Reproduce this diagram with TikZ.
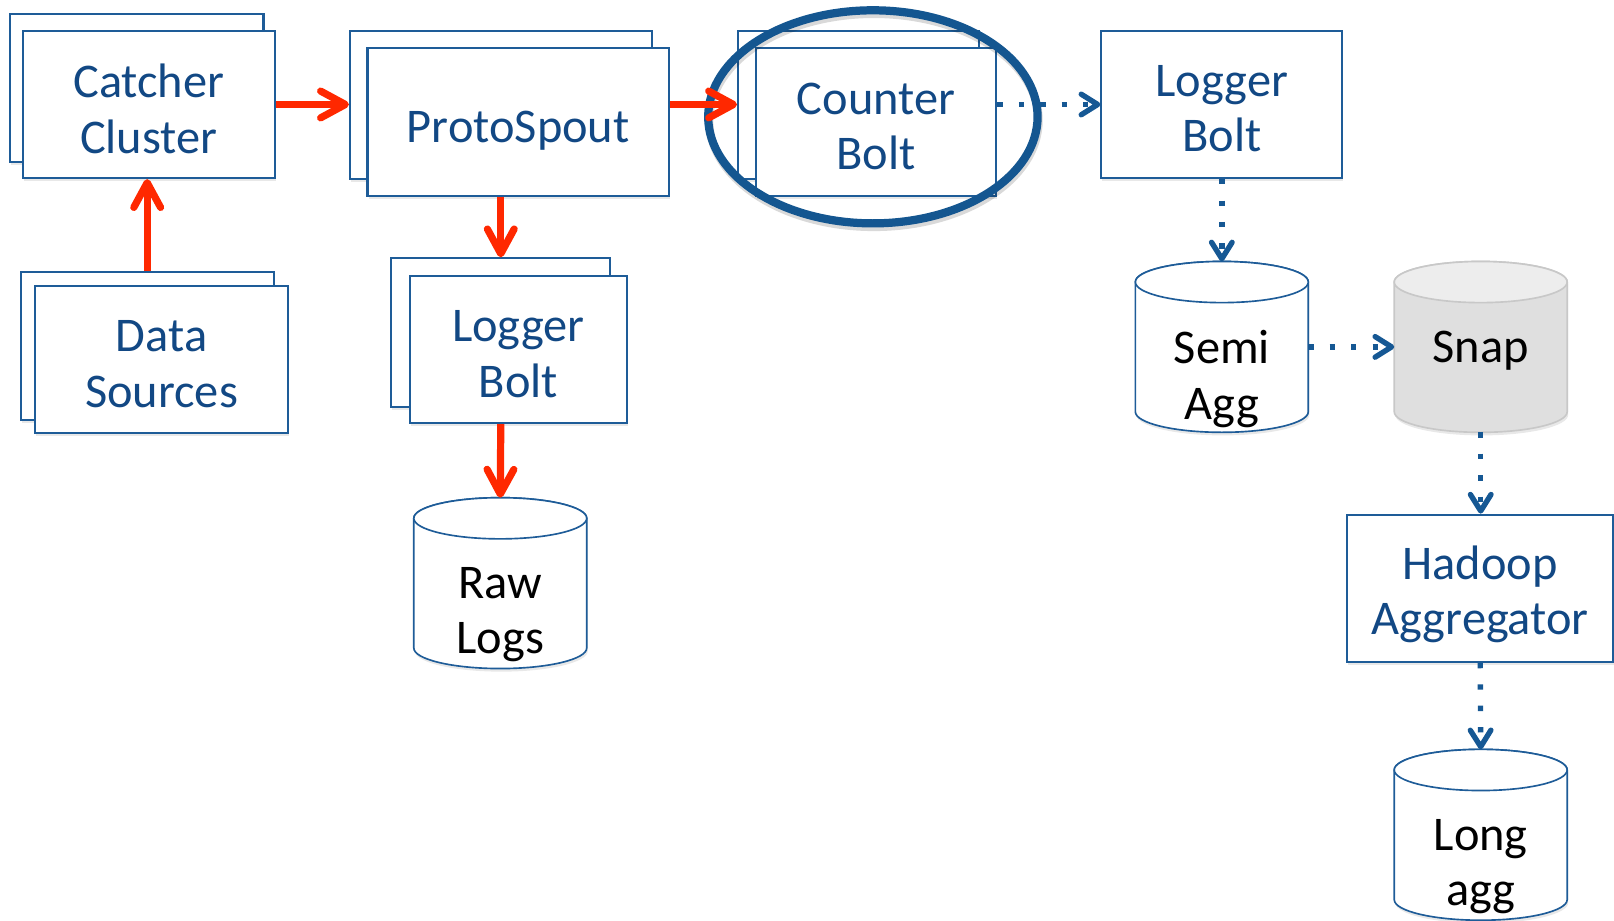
\documentclass[tikz,border=0pt]{standalone}
\usepackage{fontspec}
\setmainfont{Carlito}
\usetikzlibrary{arrows.meta,shapes.geometric,shadows}
\definecolor{lblue}{RGB}{30,92,152}
\definecolor{tblue}{RGB}{18,72,132}
\definecolor{ringblue}{RGB}{20,86,144}
\definecolor{dotblue}{RGB}{22,88,148}
\definecolor{ared}{RGB}{255,40,0}
\definecolor{snapfill}{RGB}{223,223,223}
\definecolor{snaptop}{RGB}{237,237,237}
\definecolor{snapline}{RGB}{200,200,200}
\tikzset{
  softshadow/.style={drop shadow={shadow xshift=0.5pt, shadow yshift=-1.5pt, opacity=0.18}},
  box/.style={draw=lblue, line width=1pt, fill=white, rectangle, inner sep=0pt, softshadow},
  boxtext/.style={text=tblue, font=\fontsize{23.5}{27}\selectfont, align=center, inner sep=0pt},
  cylnode/.style={rectangle, inner sep=0pt, outer sep=0pt, minimum width=84pt, minimum height=83pt},
  cyltext/.style={font=\fontsize{23.5}{27}\selectfont, align=center, text=black, inner sep=0pt},
  hlring/.style={ellipse, draw=ringblue, line width=4pt, inner sep=0pt},
  redarrow/.style={draw=ared, line width=3.5pt,
    -{Straight Barb[length=12pt,width=13pt,line cap=round,line join=round]}},
  bluearrow/.style={draw=dotblue, line width=2.6pt, dash pattern=on 2.6pt off 7.8pt,
    -{Straight Barb[length=8pt,width=10pt,line cap=round,line join=round]}}
}
% #1 name, #2 x, #3 y, #4 body fill, #5 top fill, #6 line colour
\newcommand{\dbcyl}[6]{%
  \node[cylnode] (#1) at (#2,#3) {};
  \path[fill=#4, draw=#6, line width=0.8pt, softshadow]
    ([yshift=-10pt]#1.north west) -- ([yshift=10pt]#1.south west)
    arc[start angle=180, end angle=360, x radius=42pt, y radius=10pt]
    -- ([yshift=-10pt]#1.north east)
    arc[start angle=0, end angle=180, x radius=42pt, y radius=10pt] -- cycle;
  \draw[fill=#5, draw=#6, line width=0.8pt] ([yshift=-10pt]#1.north) ellipse[x radius=42pt, y radius=10pt];
}
\begin{document}
\begin{tikzpicture}[x=0.5pt,y=0.5pt]
\useasboundingbox (0,0) rectangle (1568,-894);

% boxes
\node[box, minimum width=123pt, minimum height=71.5pt] (catB) at (133,-85.5) {};
\node[box, minimum width=122.5pt, minimum height=71.5pt] (cat) at (144.5,-101.5) {};
\node[box, minimum width=123pt, minimum height=72pt] (dsB) at (143,-336) {};
\node[box, minimum width=123pt, minimum height=71.5pt] (ds) at (157,-349.5) {};
\node[box, minimum width=146.5pt, minimum height=72pt] (psB) at (486.5,-102) {};
\node[box, minimum width=146.5pt, minimum height=71.5pt] (ps) at (503.5,-118.5) {};
\node[box, minimum width=106.5pt, minimum height=72pt] (lbB) at (486.5,-323) {};
\node[box, minimum width=105.5pt, minimum height=71.5pt] (lb) at (503.5,-339.5) {};
\node[box, minimum width=117pt, minimum height=72pt] (cbB) at (834,-102) {};
\node[box, minimum width=117pt, minimum height=71.5pt] (cb) at (851,-118.5) {};
\node[box, minimum width=117pt, minimum height=71.5pt] (lb2) at (1187,-101.5) {};
\node[box, minimum width=129pt, minimum height=71.5pt] (had) at (1438,-571.5) {};

\node[boxtext] (catT) at ([yshift=-2pt]cat.center) {Catcher\\Cluster};
\node[boxtext] (dsT) at ([yshift=-2pt]ds.center) {Data\\Sources};
\node[boxtext] (psT) at ([yshift=-4pt]ps.center) {ProtoSpout};
\node[boxtext] (lbT) at ([yshift=-2.2pt]lb.center) {Logger\\Bolt};
\node[boxtext] (cbT) at ([yshift=-2.2pt]cb.center) {Counter\\Bolt};
\node[boxtext] (lb2T) at ([yshift=-2pt]lb2.center) {Logger\\Bolt};
\node[boxtext] (hadT) at ([yshift=-3pt]had.center) {Hadoop\\Aggregator};

% cylinders
\dbcyl{raw}{486}{-566.5}{white}{white}{lblue}
\dbcyl{semi}{1187}{-337}{white}{white}{lblue}
\dbcyl{snap}{1438.5}{-337}{snapfill}{snaptop}{snapline}
\dbcyl{long}{1438.5}{-811}{white}{white}{lblue}
\node[cyltext] (rawT) at (486,-597) {Raw\\Logs};
\node[cyltext] (semiT) at (1187,-368) {Semi\\Agg};
\node[cyltext] (snapT) at (1438.5,-341) {Snap};
\node[cyltext] (longT) at (1438.5,-842) {Long\\agg};

% highlight ring
\draw[black, opacity=0.15, line width=4pt] (849,-117) ellipse[x radius=80pt, y radius=51.75pt];
\node[hlring, minimum width=160pt, minimum height=103.5pt] (ring) at (848,-113.5) {};

% red connectors
\draw[redarrow] (dsB.north) -- (dsB.north |- cat.south);
\draw[redarrow] (cat.east) -- (cat.east -| psB.west);
\draw[redarrow] (ps.east |- cat.east) -- (cbB.west |- cat.east);
\draw[redarrow] (psB.south |- ps.south) -- (lbB.north);
\draw[redarrow] (lbB.south |- lb.south) -- (raw.north);

% blue dotted connectors
\draw[bluearrow] (cb.east |- lb2.west) -- (lb2.west);
\draw[bluearrow] (lb2.south) -- (semi.north);
\draw[bluearrow] (semi.east) -- (snap.west);
\draw[bluearrow] (snap.south) -- (snap.south |- had.north);
\draw[bluearrow] (had.south) -- (long.north);
\end{tikzpicture}
\end{document}
